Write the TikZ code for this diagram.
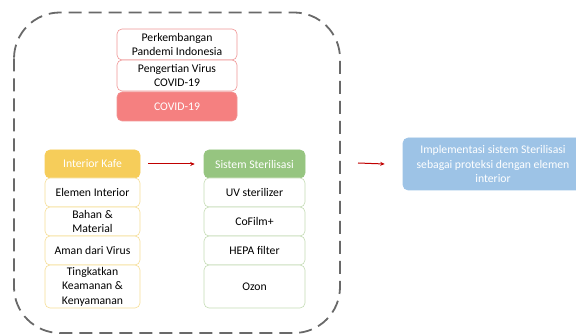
\documentclass[tikz,border=0pt]{standalone}
\usepackage{fontspec}
\setmainfont{Carlito}
\usetikzlibrary{arrows.meta}
\definecolor{redfill}{RGB}{245,128,128}
\definecolor{redline}{RGB}{240,150,150}
\definecolor{yelfill}{RGB}{246,205,90}
\definecolor{yelline}{RGB}{246,222,150}
\definecolor{grnfill}{RGB}{150,197,128}
\definecolor{grnline}{RGB}{196,220,180}
\definecolor{bluefill}{RGB}{157,195,230}
\definecolor{arrowred}{RGB}{192,0,0}
\definecolor{frame}{RGB}{105,105,105}
\tikzset{
  box/.style={rounded corners=5pt, line width=0.6pt, align=center, inner sep=1pt,
    font=\fontsize{11.7}{14.6}\selectfont, text=black},
  redbox/.style={box, draw=redline, fill=white},
  redhead/.style={box, draw=redline, fill=redfill, text=white},
  yelbox/.style={box, draw=yelline, fill=white},
  yelhead/.style={box, draw=yelfill, fill=yelfill, text=white},
  grnbox/.style={box, draw=grnline, fill=white},
  grnhead/.style={box, draw=grnfill, fill=grnfill, text=white},
  flow/.style={draw=arrowred, line width=1pt, -{Stealth[length=4.5pt,width=4pt]}}
}
\begin{document}
\begin{tikzpicture}[x=1pt,y=-1pt]
\useasboundingbox (0,0) rectangle (576,336);
% dashed outer frame
\draw[frame, line width=1.8pt, dash pattern=on 13pt off 7pt, rounded corners=46pt]
  (14,12.5) rectangle (340,333);

% COVID-19 stack
\node[redbox, minimum width=120pt, minimum height=31pt] (perk) at (177,44.5) {Perkembangan\\Pandemi Indonesia};
\node[redbox, minimum width=120pt, minimum height=31pt] (peng) at (177,75.5) {Pengertian Virus\\COVID-19};
\node[redhead, minimum width=120pt, minimum height=29pt] (covid) at (177,106.5) {COVID-19};

% Interior Kafe stack
\node[yelhead, minimum width=95pt, minimum height=28pt] (kafe) at (92.5,164) {Interior Kafe};
\node[yelbox, minimum width=95pt, minimum height=29pt] (elemen) at (92.5,192.5) {Elemen Interior};
\node[yelbox, minimum width=95pt, minimum height=29pt] (bahan) at (92.5,221.5) {Bahan \&\\Material};
\node[yelbox, minimum width=95pt, minimum height=29pt] (aman) at (92.5,250.5) {Aman dari Virus};
\node[yelbox, minimum width=95pt, minimum height=43pt] (tingkat) at (92.5,286.5) {Tingkatkan\\Keamanan \&\\Kenyamanan};

% Sistem Sterilisasi stack
\node[grnhead, minimum width=101pt, minimum height=28pt] (steril) at (254.5,164) {Sistem Sterilisasi};
\node[grnbox, minimum width=101pt, minimum height=29pt] (uv) at (254.5,192.5) {UV sterilizer};
\node[grnbox, minimum width=101pt, minimum height=29pt] (cofilm) at (254.5,221.5) {CoFilm+};
\node[grnbox, minimum width=101pt, minimum height=29pt] (hepa) at (254.5,250.5) {HEPA filter};
\node[grnbox, minimum width=101pt, minimum height=43pt] (ozon) at (254.5,286.5) {Ozon};

% result
\node[box, draw=bluefill, fill=bluefill, text=white, minimum width=180pt, minimum height=52pt] (impl) at (493,164)
  {Implementasi sistem Sterilisasi\\sebagai proteksi dengan elemen\\interior};

% connectors
\draw[flow] ([xshift=8pt]kafe.east) -- ([xshift=-9pt]steril.west);
\coordinate (b0) at (358,163);
\draw[flow] (b0) -- ([xshift=-18pt]impl.west);
\end{tikzpicture}
\end{document}
